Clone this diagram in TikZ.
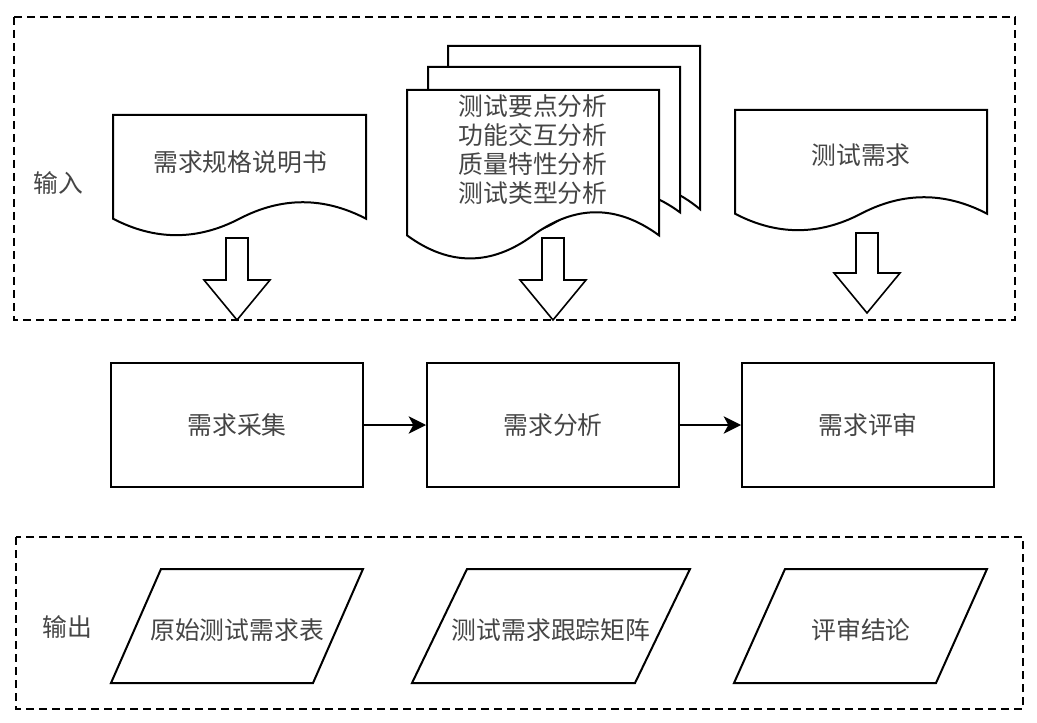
\documentclass[tikz,border=0pt]{standalone}
\usepackage{fontspec}
\usepackage{xcolor}
\usepackage{tikz}
\usetikzlibrary{arrows.meta}
\setmainfont{Noto Sans CJK SC}
\definecolor{ink}{HTML}{000000}
\definecolor{txt}{HTML}{454545}
\tikzset{
  box/.style={draw=ink, line width=1.5pt, fill=white, line join=miter},
  frame/.style={draw=ink, line width=1.5pt, dash pattern=on 6pt off 3.75pt},
  flow/.style={draw=ink, line width=1.5pt, -{Stealth[length=13pt,width=13pt,inset=3.5pt]}},
  fat/.style={draw=ink, line width=1.2pt, fill=white, line join=miter},
  lab/.style={text=txt, font=\fontsize{18.6}{21.75}\selectfont, align=center},
  stage/.style={box, lab, minimum width=189pt, minimum height=93pt},
}

\begin{document}
\begin{tikzpicture}[x=0.75pt, y=-0.75pt]
  \useasboundingbox (0,0) rectangle (1037,723);
  % sheet with a wavy lower edge: left, top, width, height
  \def\sheet#1#2#3#4{%
    \draw[box] (#1,#2) -- ({#1+#3},#2) -- ({#1+#3},{#2+0.85*#4})
      .. controls ({#1+5*#3/6},{#2+0.67*#4}) and ({#1+2*#3/3},{#2+0.67*#4}) .. ({#1+#3/2},{#2+0.85*#4})
      .. controls ({#1+#3/3},{#2+1.03*#4}) and ({#1+#3/6},{#2+1.03*#4}) .. (#1,{#2+0.85*#4}) -- cycle;}
  % hollow down arrow: centre, top, neck, tip
  \def\fatarrow#1#2#3#4{%
    \draw[fat] ({#1-11},#2) -- ({#1+11},#2) -- ({#1+11},#3) -- ({#1+33},#3) -- (#1,#4)
      -- ({#1-33},#3) -- ({#1-11},#3) -- cycle;}
  % slanted data box: lower left, upper right, slant
  \def\slab#1#2#3{%
    \draw[box] ({#1+#3},569) -- (#2,569) -- ({#2-#3},683) -- (#1,683) -- cycle;}

  \draw[frame] (14,17) rectangle (1015,320);
  \draw[frame] (16,537) rectangle (1023,709);
  \node[lab] (in) at (58,183) {输入};
  \node[lab] (out) at (67,627) {输出};

  % inputs
  \sheet{113}{115}{253}{122}
  \node[lab] (spec) at (240,162) {需求规格说明书};
  \sheet{448}{46}{252}{192}
  \sheet{428}{67}{252}{171}
  \sheet{407}{90}{252}{171}
  \node[lab] (points) at (533,150) {测试要点分析\\功能交互分析\\质量特性分析\\测试类型分析};
  \sheet{735}{110}{252}{122}
  \node[lab] (treq) at (861,155) {测试需求};

  \fatarrow{237}{238}{280}{320}
  \fatarrow{553}{238}{280}{320}
  \fatarrow{867}{233}{273}{313}

  % stages
  \node[stage] (collect) at (237,425) {需求采集};
  \node[stage] (analyse) at (553,425) {需求分析};
  \node[stage] (review) at (868,425) {需求评审};
  \draw[flow] (collect) -- (analyse);
  \draw[flow] (analyse) -- (review);

  % outputs
  \slab{111}{363}{50}
  \node[lab] (table) at (237,630) {原始测试需求表};
  \slab{412}{690}{55}
  \node[lab] (matrix) at (551,630) {测试需求跟踪矩阵};
  \slab{734}{987}{51}
  \node[lab] (verdict) at (861,630) {评审结论};
\end{tikzpicture}
\end{document}
